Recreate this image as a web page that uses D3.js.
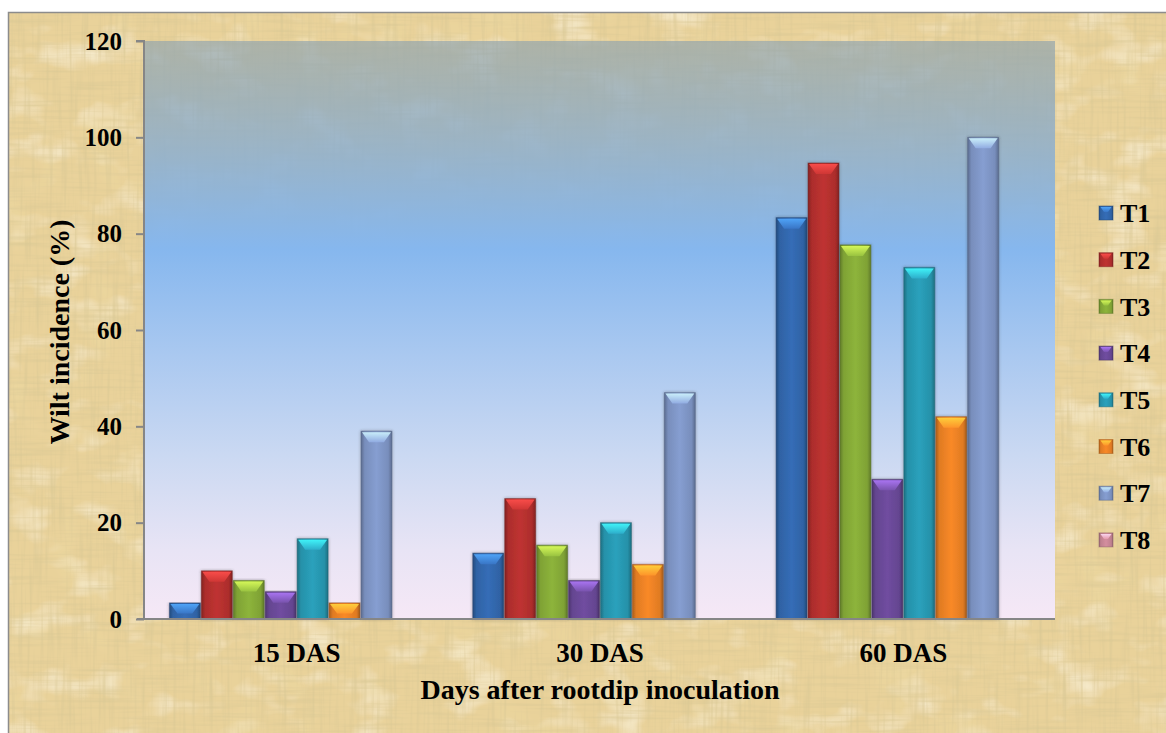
<!DOCTYPE html>
<html>
<head>
<meta charset="utf-8">
<script src="https://cdn.jsdelivr.net/npm/d3@7/dist/d3.min.js"></script>
<style>
  html, body { margin: 0; padding: 0; background: #ffffff; }
  svg { display: block; }
  text { font-family: "Liberation Serif", "Times New Roman", serif; font-weight: bold; fill: #000; }
</style>
</head>
<body>
<svg id="chart" width="1166" height="733"></svg>
<script>
// Wilt incidence (%) by treatment at three sampling dates
const categories = ["15 DAS", "30 DAS", "60 DAS"];
const seriesNames = ["T1", "T2", "T3", "T4", "T5", "T6", "T7", "T8"];
const t1 = [3.33, 13.67, 83.33];
const t2 = [10, 25, 94.67];
const t3 = [8, 15.33, 77.67];
const t4 = [5.67, 8, 29];
const t5 = [16.67, 20, 73];
const t6 = [3.33, 11.33, 42];
const t7 = [39, 47, 100];
const t8 = [0, 0, 0];
const seriesValues = [t1, t2, t3, t4, t5, t6, t7, t8];
const seriesColors = ["#3267ad", "#b5302e", "#86ab38", "#6a4998", "#2899b2", "#ec8225", "#7f96c6", "#c98797"];
const yTicks = [0, 20, 40, 60, 80, 100, 120];
const yTitle = "Wilt incidence (%)";
const xTitle = "Days after rootdip inoculation";

const W = 1166, H = 733;
const plot = { left: 145, right: 1055, top: 41, bottom: 619 };

const svg = d3.select("#chart");
const defs = svg.append("defs");

// ---- parchment texture: fine cross fibres plus soft light/dark patches ----
const paper = defs.append("filter").attr("id", "paper")
  .attr("x", 0).attr("y", 0).attr("width", 1).attr("height", 1);
paper.append("feTurbulence").attr("type", "fractalNoise")
  .attr("baseFrequency", "0.015 0.30").attr("numOctaves", 2).attr("seed", 3).attr("result", "hn");
paper.append("feColorMatrix").attr("in", "hn").attr("type", "matrix")
  .attr("values", "0 0 0 0 0.70  0 0 0 0 0.58  0 0 0 0 0.30  1.6 0 0 0 -0.74").attr("result", "hd");
paper.append("feTurbulence").attr("type", "fractalNoise")
  .attr("baseFrequency", "0.30 0.015").attr("numOctaves", 2).attr("seed", 11).attr("result", "vn");
paper.append("feColorMatrix").attr("in", "vn").attr("type", "matrix")
  .attr("values", "0 0 0 0 0.70  0 0 0 0 0.58  0 0 0 0 0.30  1.6 0 0 0 -0.74").attr("result", "vd");
paper.append("feTurbulence").attr("type", "fractalNoise")
  .attr("baseFrequency", "0.02 0.03").attr("numOctaves", 3).attr("seed", 5).attr("result", "bn");
paper.append("feColorMatrix").attr("in", "bn").attr("type", "matrix")
  .attr("values", "0 0 0 0 0.98  0 0 0 0 0.93  0 0 0 0 0.76  -1.6 0 0 0 0.78").attr("result", "bl");
paper.append("feTurbulence").attr("type", "fractalNoise")
  .attr("baseFrequency", "0.025 0.02").attr("numOctaves", 2).attr("seed", 21).attr("result", "dn");
paper.append("feColorMatrix").attr("in", "dn").attr("type", "matrix")
  .attr("values", "0 0 0 0 0.85  0 0 0 0 0.72  0 0 0 0 0.38  1.4 0 0 0 -0.78").attr("result", "dk");
paper.append("feMerge").selectAll("feMergeNode")
  .data(["SourceGraphic", "bl", "dk", "hd", "vd"]).join("feMergeNode").attr("in", d => d);

// ---- plot area gradient (upper part lets the paper show through) ----
const pg = defs.append("linearGradient").attr("id", "plotFill")
  .attr("x1", 0).attr("y1", 0).attr("x2", 0).attr("y2", 1);
[
  [0.00, "#8fa3ae", 0.66],
  [0.17, "#8eaecb", 0.84],
  [0.36, "#86b7ee", 1],
  [0.54, "#a9c8f0", 1],
  [0.72, "#cbd9f2", 1],
  [0.88, "#e8e4f5", 1],
  [1.00, "#f6e8f6", 1]
].forEach(([o, c, a]) => pg.append("stop").attr("offset", o).attr("stop-color", c).attr("stop-opacity", a));

// ---- bar gradients (bevelled look) ----
seriesColors.forEach((c, i) => {
  const base = d3.color(c);
  const g = defs.append("linearGradient").attr("id", "bar" + i)
    .attr("x1", 0).attr("y1", 0).attr("x2", 1).attr("y2", 0);
  g.append("stop").attr("offset", 0).attr("stop-color", base.darker(0.9));
  g.append("stop").attr("offset", 0.12).attr("stop-color", base.darker(0.15));
  g.append("stop").attr("offset", 0.5).attr("stop-color", base.brighter(0.15));
  g.append("stop").attr("offset", 0.88).attr("stop-color", base.darker(0.15));
  g.append("stop").attr("offset", 1).attr("stop-color", base.darker(0.9));
  const cap = defs.append("linearGradient").attr("id", "cap" + i)
    .attr("x1", 0).attr("y1", 0).attr("x2", 0).attr("y2", 1);
  cap.append("stop").attr("offset", 0).attr("stop-color", base.brighter(1.4));
  cap.append("stop").attr("offset", 1).attr("stop-color", base.brighter(0.4));
});

const shadow = defs.append("filter").attr("id", "barShadow")
  .attr("x", "-20%").attr("y", "-5%").attr("width", "140%").attr("height", "110%");
shadow.append("feDropShadow").attr("dx", 0).attr("dy", 0).attr("stdDeviation", 1.6)
  .attr("flood-color", "#333").attr("flood-opacity", 0.45);

// ---- chart background ----
svg.append("rect").attr("x", 8).attr("y", 12).attr("width", W).attr("height", H)
  .attr("fill", "#e9d29a").attr("filter", "url(#paper)");
svg.append("rect").attr("x", 8.5).attr("y", 12.5).attr("width", W).attr("height", H)
  .attr("fill", "none").attr("stroke", "#8c8c8c").attr("stroke-width", 1.5);

svg.append("rect").attr("x", plot.left).attr("y", plot.top)
  .attr("width", plot.right - plot.left).attr("height", plot.bottom - plot.top)
  .attr("fill", "url(#plotFill)");

// ---- scales ----
const x0 = d3.scaleBand().domain(categories).range([plot.left, plot.right]).paddingInner(0).paddingOuter(0);
const x1 = d3.scaleBand().domain(seriesNames).range([0, x0.bandwidth()]).paddingInner(0).paddingOuter(0.75);
const y = d3.scaleLinear().domain([0, 120]).range([plot.bottom, plot.top]);

// ---- bars ----
const bw = x1.bandwidth();
const barData = [];
categories.forEach((cat, ci) => {
  seriesNames.forEach((s, si) => {
    barData.push({ cat, s, si, v: seriesValues[si][ci] });
  });
});

const bars = svg.append("g").selectAll("g.bar")
  .data(barData.filter(d => d.v > 0)).join("g").attr("class", "bar");

bars.append("rect")
  .attr("x", d => x0(d.cat) + x1(d.s) + 0.5)
  .attr("y", d => y(d.v))
  .attr("width", bw - 1)
  .attr("height", d => y(0) - y(d.v))
  .attr("fill", d => `url(#bar${d.si})`)
  .attr("stroke", d => d3.color(seriesColors[d.si]).darker(1.2))
  .attr("stroke-opacity", 0.45)
  .attr("stroke-width", 1)
  .attr("filter", "url(#barShadow)");

// bevelled top cap
bars.append("path")
  .attr("d", d => {
    const xl = x0(d.cat) + x1(d.s) + 1.5, xr = xl + bw - 3, yt = y(d.v) + 1;
    const h = Math.min(10, (y(0) - y(d.v)) * 0.6);
    return `M${xl},${yt} L${xr},${yt} L${xr - bw * 0.22},${yt + h} L${xl + bw * 0.22},${yt + h} Z`;
  })
  .attr("fill", d => `url(#cap${d.si})`)
  .attr("opacity", 0.9);

// ---- axes ----
const yAxis = d3.axisLeft(y).tickValues(yTicks).tickSize(8).tickPadding(14).tickFormat(d3.format("d"));
const gy = svg.append("g").attr("transform", `translate(${plot.left - 1},0)`).call(yAxis);
gy.select(".domain").attr("stroke", "#868686").attr("stroke-width", 2)
  .attr("d", `M-8,${plot.top}H0V${plot.bottom}`);
gy.selectAll(".tick line").attr("stroke", "#868686").attr("stroke-width", 2);
gy.selectAll(".tick text").style("font-size", "25px")
  .style("font-family", "'Liberation Serif', 'Times New Roman', serif").style("font-weight", "bold").attr("fill", "#000");

const xAxis = d3.axisBottom(x0).tickSize(0).tickPadding(24);
const gx = svg.append("g").attr("transform", `translate(0,${plot.bottom})`).call(xAxis);
gx.select(".domain").attr("stroke", "#868686").attr("stroke-width", 2)
  .attr("d", `M${plot.left - 8},0H${plot.right}`);
gx.selectAll(".tick text").style("font-size", "27px")
  .style("font-family", "'Liberation Serif', 'Times New Roman', serif").style("font-weight", "bold").attr("fill", "#000");

// ---- axis titles ----
svg.append("text").attr("x", 600).attr("y", 699).attr("text-anchor", "middle")
  .style("font-size", "28px").text(xTitle);
svg.append("text").attr("transform", "translate(69,332) rotate(-90)").attr("text-anchor", "middle")
  .style("font-size", "28px").text(yTitle);

// ---- legend ----
const legend = svg.append("g").selectAll("g").data(seriesNames).join("g")
  .attr("transform", (d, i) => `translate(1099,${213 + i * 46.7})`);
legend.append("rect").attr("x", 0).attr("y", -7).attr("width", 14).attr("height", 14)
  .attr("fill", (d, i) => `url(#bar${i})`)
  .attr("stroke", (d, i) => d3.color(seriesColors[i]).darker(1)).attr("stroke-opacity", 0.5);
legend.append("path").attr("d", "M1.5,-6 L12.5,-6 L9,-1 L5,-1 Z")
  .attr("fill", (d, i) => `url(#cap${i})`).attr("opacity", 0.9);
legend.append("text").attr("x", 21).attr("y", 0).attr("dy", "0.35em")
  .style("font-size", "26px").text(d => d);
</script>
</body>
</html>
